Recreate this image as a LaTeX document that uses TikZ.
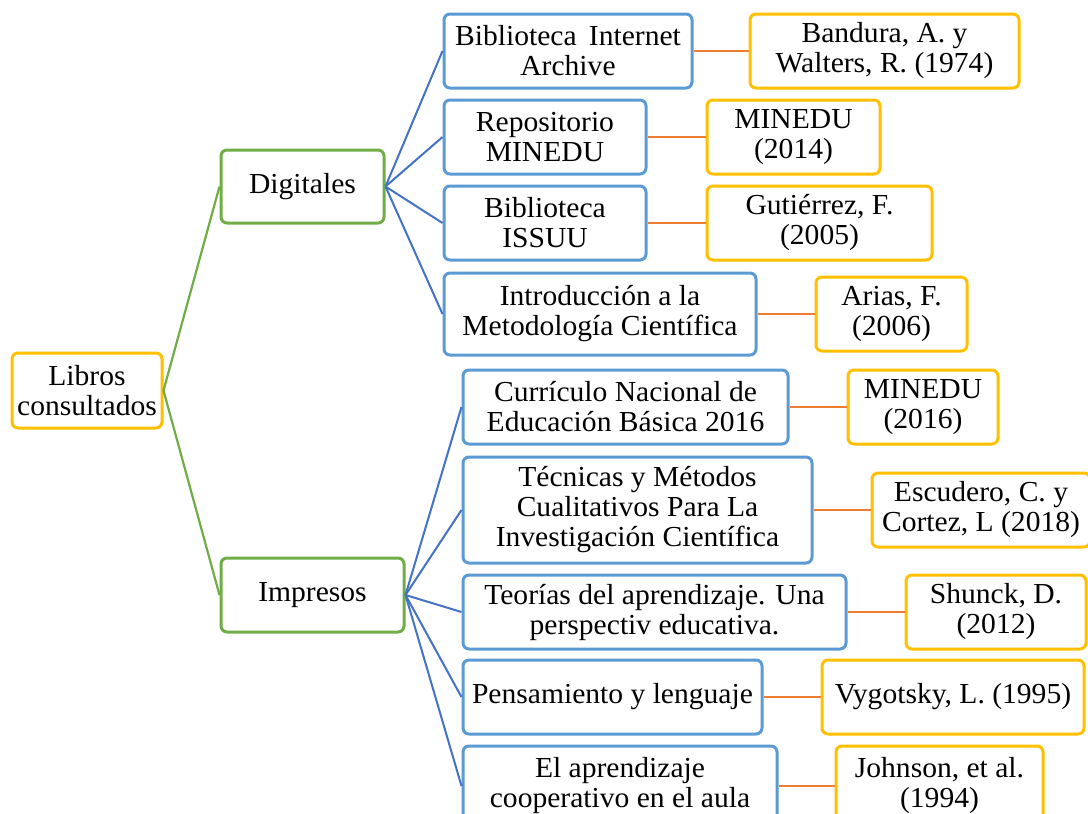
\documentclass[tikz,border=0pt]{standalone}
\usepackage{fontspec}
\setmainfont[FakeStretch=1.02]{Liberation Serif}
\definecolor{cgreen}{HTML}{70AD47}
\definecolor{cblue}{HTML}{5B9BD5}
\definecolor{clink}{HTML}{4472C4}
\definecolor{corange}{HTML}{ED7D31}
\definecolor{cgold}{HTML}{FFC000}
\tikzset{
  box/.style={draw, fill=white, rounded corners=6pt, line width=3pt, align=center, inner sep=0pt,
    font=\fontsize{29}{30}\selectfont},
  gbox/.style={box, draw=cgreen},
  bbox/.style={box, draw=cblue},
  ybox/.style={box, draw=cgold},
  glink/.style={draw=cgreen, line width=2.2pt},
  blink/.style={draw=clink, line width=2pt},
  olink/.style={draw=corange, line width=2.2pt},
}
\begin{document}
\begin{tikzpicture}[x=1pt,y=-1pt]
\path[use as bounding box, clip] (0,0) rectangle (1088,814);
\fill[white] (0,0) rectangle (1088,814);
\node[ybox, minimum width=150pt, minimum height=75pt] (root) at (87,390.5) {Libros\\consultados};
\node[gbox, minimum width=163pt, minimum height=73pt] (dig) at (302.5,186.5) {Digitales};
\node[gbox, minimum width=183pt, minimum height=74pt] (imp) at (312.5,595) {Impresos};
\node[bbox, minimum width=248pt, minimum height=74pt] (a1) at (568,51) {Biblioteca\ \,Internet\\Archive};
\node[ybox, minimum width=269pt, minimum height=74pt] (r1) at (884.5,51) {Bandura, A. y\\Walters, R. (1974)};
\node[bbox, minimum width=202pt, minimum height=74pt] (a2) at (545,137) {Repositorio\\MINEDU};
\node[ybox, minimum width=173pt, minimum height=74pt] (r2) at (793.5,137) {MINEDU\\(2014)};
\node[bbox, minimum width=202pt, minimum height=74pt] (a3) at (545,223) {Biblioteca\\ISSUU};
\node[ybox, minimum width=225pt, minimum height=74pt] (r3) at (819.5,223) {Gutiérrez, F.\\(2005)};
\node[bbox, minimum width=312pt, minimum height=82pt] (a4) at (600,314) {Introducción a la\\Metodología Científica};
\node[ybox, minimum width=151pt, minimum height=74pt] (r4) at (891.5,314) {Arias, F.\\(2006)};
\node[bbox, minimum width=325pt, minimum height=74pt] (b1) at (625.5,407) {Currículo Nacional de\\Educación Básica 2016};
\node[ybox, minimum width=150pt, minimum height=74pt] (s1) at (923,407) {MINEDU\\(2016)};
\node[bbox, minimum width=349pt, minimum height=106pt] (b2) at (637.5,510) {Técnicas y Métodos\\Cualitativos Para La\\Investigación Científica};
\node[ybox, minimum width=218pt, minimum height=74pt] (s2) at (981,510) {Escudero, C. y\\Cortez, L (2018)};
\node[bbox, minimum width=383pt, minimum height=74pt] (b3) at (654.5,612) {Teorías del aprendizaje. Una\\perspectiv educativa.};
\node[ybox, minimum width=180pt, minimum height=74pt] (s3) at (996,612) {Shunck, D.\\(2012)};
\node[bbox, minimum width=299pt, minimum height=74pt] (b4) at (612.5,697) {Pensamiento y lenguaje};
\node[ybox, minimum width=262pt, minimum height=74pt] (s4) at (953,697) {Vygotsky, L. (1995)};
\node[bbox, minimum width=314pt, minimum height=80pt] (b5) at (620,786) {El aprendizaje\\cooperativo en el aula};
\node[ybox, minimum width=207pt, minimum height=80pt] (s5) at (939.5,786) {Johnson, et al.\\(1994)};
\path[glink] (root.east) -- (dig.west) (root.east) -- (imp.west);
\foreach \n in {a1,a2,a3,a4} \path[blink] (dig.east) -- (\n.west);
\foreach \n in {b1,b2,b3,b4,b5} \path[blink] (imp.east) -- (\n.west);
\path[olink] (a1.east) -- (r1.west) (a2.east) -- (r2.west) (a3.east) -- (r3.west)
  (a4.east) -- (r4.west) (b1.east) -- (s1.west) (b2.east) -- (s2.west)
  (b3.east) -- (s3.west) (b4.east) -- (s4.west) (b5.east) -- (s5.west);
\end{tikzpicture}
\end{document}
